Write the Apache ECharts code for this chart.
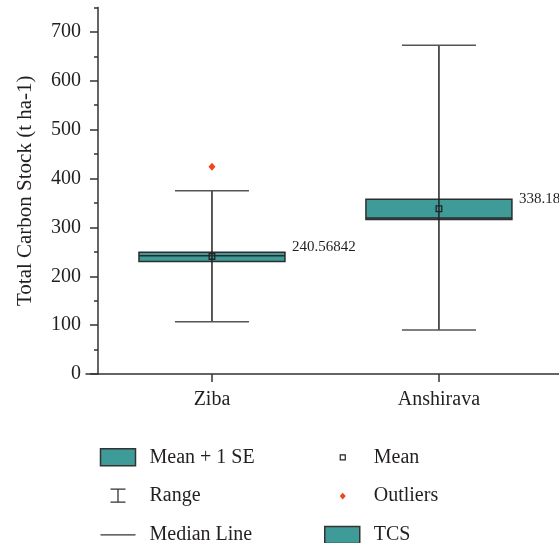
<!DOCTYPE html>
<html>
<head>
<meta charset="utf-8">
<script src="https://cdn.jsdelivr.net/npm/echarts@6/dist/echarts.min.js"></script>
<style>html,body{margin:0;padding:0;background:#fff;}#c{width:559px;height:543px;}</style>
</head>
<body>
<div id="c"></div>
<script>
const categories = ['Ziba', 'Anshirava'];
const xPos = [1, 2];
const rangeMin = [107, 90];
const rangeMax = [375, 673];
const seLow = [230, 316];
const seHigh = [249, 357.5];
const medians = [242, 319];
const means = [240.56842, 338.18];
const meanLabels = ['240.56842', '338.18'];
const outlierX = [1];
const outlierY = [424];
const yTickValues = [0, 100, 200, 300, 400, 500, 600, 700];
const legendLeftNames = ['Mean + 1 SE', 'Range', 'Median Line'];
const legendRightNames = ['Mean', 'Outliers', 'TCS'];

const TEAL = '#3e9b97';
const INK = '#231f20';
const FONT = '"Liberation Serif", "DejaVu Serif", serif';

const boxData = categories.map((c, i) => [xPos[i], rangeMin[i], seLow[i], medians[i], seHigh[i], rangeMax[i], means[i]]);
const outlierData = outlierX.map((x, i) => [x, outlierY[i]]);

function renderItem(params, api) {
  const i = params.dataIndex;
  const x = api.value(0);
  const pMin = api.coord([x, api.value(1)]);
  const pLow = api.coord([x, api.value(2)]);
  const pMed = api.coord([x, api.value(3)]);
  const pHigh = api.coord([x, api.value(4)]);
  const pMax = api.coord([x, api.value(5)]);
  const pMean = api.coord([x, api.value(6)]);
  const cx = pMin[0];
  const bw = 73, cw = 37, ms = 2.8;
  return {
    type: 'group',
    children: [
      { type: 'rect', shape: { x: cx - bw, y: pHigh[1], width: 2 * bw, height: pLow[1] - pHigh[1] },
        style: { fill: TEAL, stroke: '#2e2e2e', lineWidth: 1.5 } },
      { type: 'line', shape: { x1: cx, y1: pMax[1], x2: cx, y2: pMin[1] },
        style: { stroke: '#222', lineWidth: 1.5 } },
      { type: 'line', shape: { x1: cx - cw, y1: pMax[1], x2: cx + cw, y2: pMax[1] },
        style: { stroke: '#555', lineWidth: 1.5 } },
      { type: 'line', shape: { x1: cx - cw, y1: pMin[1], x2: cx + cw, y2: pMin[1] },
        style: { stroke: '#555', lineWidth: 1.5 } },
      { type: 'line', shape: { x1: cx - bw, y1: pMed[1], x2: cx + bw, y2: pMed[1] },
        style: { stroke: '#2a2a2a', lineWidth: 1.5 } },
      { type: 'rect', shape: { x: cx - ms, y: pMean[1] - ms, width: 2 * ms, height: 2 * ms },
        style: { fill: 'none', stroke: '#222', lineWidth: 1.3 } },
      { type: 'text', x: cx + bw + 7, y: pMean[1] - 9.5,
        style: { text: meanLabels[i], fontSize: 15, fontFamily: FONT, fill: INK, align: 'left', verticalAlign: 'middle' } }
    ]
  };
}

const boxIcon = { icon: 'rect', itemStyle: { color: TEAL, borderColor: '#333', borderWidth: 1.5, opacity: 1 } };
const legendIcons = {
  'Mean + 1 SE': boxIcon,
  'Range': { icon: 'path://M0 0 M35 17 M10 2 L25 2 M17.5 2 L17.5 15 M10 15 L25 15',
             itemStyle: { color: 'none', borderColor: '#333', borderWidth: 1.3, opacity: 1 } },
  'Median Line': { icon: 'path://M0 0 M35 17 M0 8.5 L35 8.5',
             itemStyle: { color: 'none', borderColor: '#333', borderWidth: 1.3, opacity: 1 } },
  'Mean': { icon: 'path://M0 0 M35 17 M15.5 6 L20.5 6 L20.5 11 L15.5 11 Z',
             itemStyle: { color: '#fff', borderColor: '#222', borderWidth: 1.2, opacity: 1 } },
  'Outliers': { icon: 'path://M0 0 M35 17 M18 5.2 L21 8.5 L18 11.8 L15 8.5 Z',
             itemStyle: { color: '#f04523', borderColor: 'none', borderWidth: 0, opacity: 1 } },
  'TCS': boxIcon
};
function legendData(names) {
  return names.map(n => Object.assign({ name: n }, legendIcons[n]));
}
function makeLegend(names, left, gap) {
  return {
    orient: 'vertical', left: left, top: 447.3, height: 110, padding: 0,
    itemWidth: 35, itemHeight: 17, itemGap: gap,
    selectedMode: false,
    textStyle: { fontSize: 20, fontFamily: FONT, color: INK, padding: [0, 0, 0, 9], height: 20, lineHeight: 20 },
    data: legendData(names)
  };
}

const chart = echarts.init(document.getElementById('c'), null, { renderer: 'canvas' });
chart.setOption({
  animation: false,
  backgroundColor: '#fff',
  grid: { left: 86, right: 0, top: 7.5, bottom: 169, containLabel: false, outerBoundsMode: 'none' },
  legend: [makeLegend(legendLeftNames, 98, 17.3), makeLegend(legendRightNames, 324, 18.8)],
  xAxis: {
    type: 'value', min: 0.445, max: 2.529,
    splitLine: { show: false },
    axisLine: { show: true, onZero: false, lineStyle: { color: '#333', width: 1.5 } },
    axisTick: { show: true, customValues: xPos, length: 8, lineStyle: { color: '#333', width: 1.5 } },
    axisLabel: { customValues: xPos, margin: 16, fontSize: 20, fontFamily: FONT, color: INK,
      formatter: v => categories[xPos.indexOf(v)] || '' }
  },
  yAxis: [
    {
      type: 'value', position: 'left', min: 0, max: 750, interval: 50, offset: -12,
      splitLine: { show: false },
      axisLine: { show: true, onZero: false, lineStyle: { color: '#333', width: 1.5 } },
      axisTick: { show: true, length: 4, lineStyle: { color: '#333', width: 1.5 } },
      axisLabel: { show: false }
    },
    {
      type: 'value', position: 'left', min: 0, max: 750, offset: -12,
      splitLine: { show: false },
      axisLine: { show: false, onZero: false },
      axisTick: { show: true, customValues: yTickValues, length: 8, lineStyle: { color: '#333', width: 1.5 } },
      axisLabel: { customValues: yTickValues, margin: 17, fontSize: 20, fontFamily: FONT, color: INK },
      name: 'Total Carbon Stock (t ha-1)', nameLocation: 'middle', nameGap: 62,
      nameTextStyle: { fontSize: 21, fontFamily: FONT, color: INK }
    }
  ],
  series: [
    { name: 'Mean + 1 SE', type: 'scatter', data: [] },
    { name: 'Range', type: 'scatter', data: [] },
    { name: 'Median Line', type: 'scatter', data: [] },
    { name: 'Mean', type: 'scatter', data: [] },
    { name: 'TCS', type: 'custom', renderItem: renderItem, data: boxData,
      encode: { x: 0, y: [1, 2, 3, 4, 5, 6] }, clip: false, itemStyle: { color: TEAL } },
    { name: 'Outliers', type: 'scatter', data: outlierData, symbol: 'diamond', symbolSize: [7, 8],
      itemStyle: { color: '#f04523', opacity: 1 } }
  ]
});
</script>
</body>
</html>
